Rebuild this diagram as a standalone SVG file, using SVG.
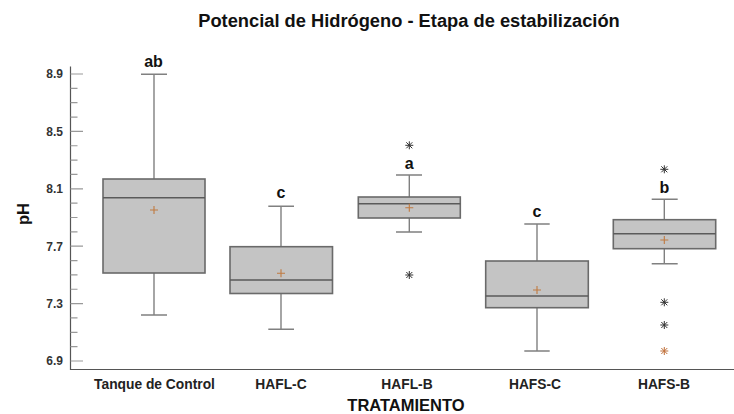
<svg xmlns="http://www.w3.org/2000/svg" width="734" height="414" viewBox="0 0 734 414">
<style>
text{font-family:"Liberation Sans",Arial,sans-serif;font-weight:bold}
.title{font-size:18.3px;fill:#111}
.tl{font-size:12px;fill:#333}
.xl{font-size:13.8px;fill:#222}
.axt{font-size:16.5px;fill:#111}
.grp{font-size:16px;fill:#111}
.ax{stroke:#555;stroke-width:1.2;fill:none}
.tick{stroke:#999;stroke-width:1.2}
.box{fill:#c4c4c4;stroke:#6a6a6a;stroke-width:1.6}
.med{stroke:#5a5a5a;stroke-width:1.6}
.wh{stroke:#808080;stroke-width:1.4}
.mean{stroke:#c07a40;stroke-width:1.1}
.out{stroke:#333;stroke-width:1}
.outo{stroke:#c0703a;stroke-width:1}
</style>
<defs>
<g id="star"><path d="M0,-4V4M-4,0H4M-3,-3L3,3M-3,3L3,-3"/></g>
<g id="plus"><path d="M-4,0H4M0,-4V4"/></g>
</defs>
<text class="title" x="409" y="26.5" text-anchor="middle">Potencial de Hidrógeno - Etapa de estabilización</text>
<g id="axes">
<path class="ax" d="M70.5,66.5V369.5H734"/>
<g class="tick">
<path d="M70.5,74H83M70.5,131.4H83M70.5,188.8H83M70.5,246.2H83M70.5,303.6H83M70.5,361H83"/>
<path d="M70.5,88.35H77.5M70.5,102.7H77.5M70.5,117.05H77.5M70.5,145.75H77.5M70.5,160.1H77.5M70.5,174.45H77.5M70.5,203.15H77.5M70.5,217.5H77.5M70.5,231.85H77.5M70.5,260.55H77.5M70.5,274.9H77.5M70.5,289.25H77.5M70.5,317.95H77.5M70.5,332.3H77.5M70.5,346.65H77.5"/>
</g>
<g class="tl" text-anchor="end">
<text x="63" y="78.3">8.9</text>
<text x="63" y="135.7">8.5</text>
<text x="63" y="193.1">8.1</text>
<text x="63" y="250.5">7.7</text>
<text x="63" y="307.9">7.3</text>
<text x="63" y="365.3">6.9</text>
</g>
<text class="axt" transform="translate(28.5,214) rotate(-90)" text-anchor="middle">pH</text>
<text class="axt" x="406" y="411" text-anchor="middle">TRATAMIENTO</text>
</g>
<g id="connectors">
<path class="wh" d="M154,179V74.3M141,74.3H167M154,273V315M141,315H167"/>
<path class="wh" d="M281,246.7V206.3M268.3,206.3H294M281,293.5V329.3M268.3,329.3H294"/>
<path class="wh" d="M409.3,197V175M396,175H422M409.3,218V232M396,232H422"/>
<path class="wh" d="M537,261V224M524.3,224H549.7M537,307.7V351M524.3,351H549.7"/>
<path class="wh" d="M664.3,219.7V199.3M651.7,199.3H677.7M664.3,248.7V263.7M651.7,263.7H677.7"/>
</g>
<g id="tanque">
<rect class="box" x="103" y="179" width="102" height="94"/>
<path class="med" d="M103,197.7H205"/>
<use href="#plus" class="mean" x="154" y="210"/>
<text class="grp" x="153.5" y="66.7" text-anchor="middle">ab</text>
<text class="xl" x="154.5" y="389" text-anchor="middle">Tanque de Control</text>
</g>
<g id="hafl-c">
<rect class="box" x="230" y="246.7" width="102.5" height="46.8"/>
<path class="med" d="M230,280H332.5"/>
<use href="#plus" class="mean" x="281" y="273.3"/>
<text class="grp" x="281" y="198" text-anchor="middle">c</text>
<text class="xl" x="281" y="389" text-anchor="middle">HAFL-C</text>
</g>
<g id="hafl-b">
<rect class="box" x="358.3" y="197" width="102" height="21"/>
<path class="med" d="M358.3,203.7H460.3"/>
<use href="#plus" class="mean" x="409.3" y="207.7"/>
<use href="#star" class="out" x="409.3" y="145.3"/>
<use href="#star" class="out" x="409.3" y="275"/>
<text class="grp" x="409.3" y="169" text-anchor="middle">a</text>
<text class="xl" x="407" y="389" text-anchor="middle">HAFL-B</text>
</g>
<g id="hafs-c">
<rect class="box" x="485.7" y="261" width="102.6" height="46.7"/>
<path class="med" d="M485.7,296H588.3"/>
<use href="#plus" class="mean" x="537" y="290"/>
<text class="grp" x="537" y="217" text-anchor="middle">c</text>
<text class="xl" x="535" y="389" text-anchor="middle">HAFS-C</text>
</g>
<g id="hafs-b">
<rect class="box" x="613.3" y="219.7" width="102.4" height="29"/>
<path class="med" d="M613.3,233.7H715.7"/>
<use href="#plus" class="mean" x="664.3" y="240"/>
<use href="#star" class="out" x="664.3" y="169.3"/>
<use href="#star" class="out" x="664.3" y="302.3"/>
<use href="#star" class="out" x="664.3" y="325"/>
<use href="#star" class="outo" x="664.3" y="351"/>
<text class="grp" x="664.3" y="193" text-anchor="middle">b</text>
<text class="xl" x="664" y="389" text-anchor="middle">HAFS-B</text>
</g>
</svg>
